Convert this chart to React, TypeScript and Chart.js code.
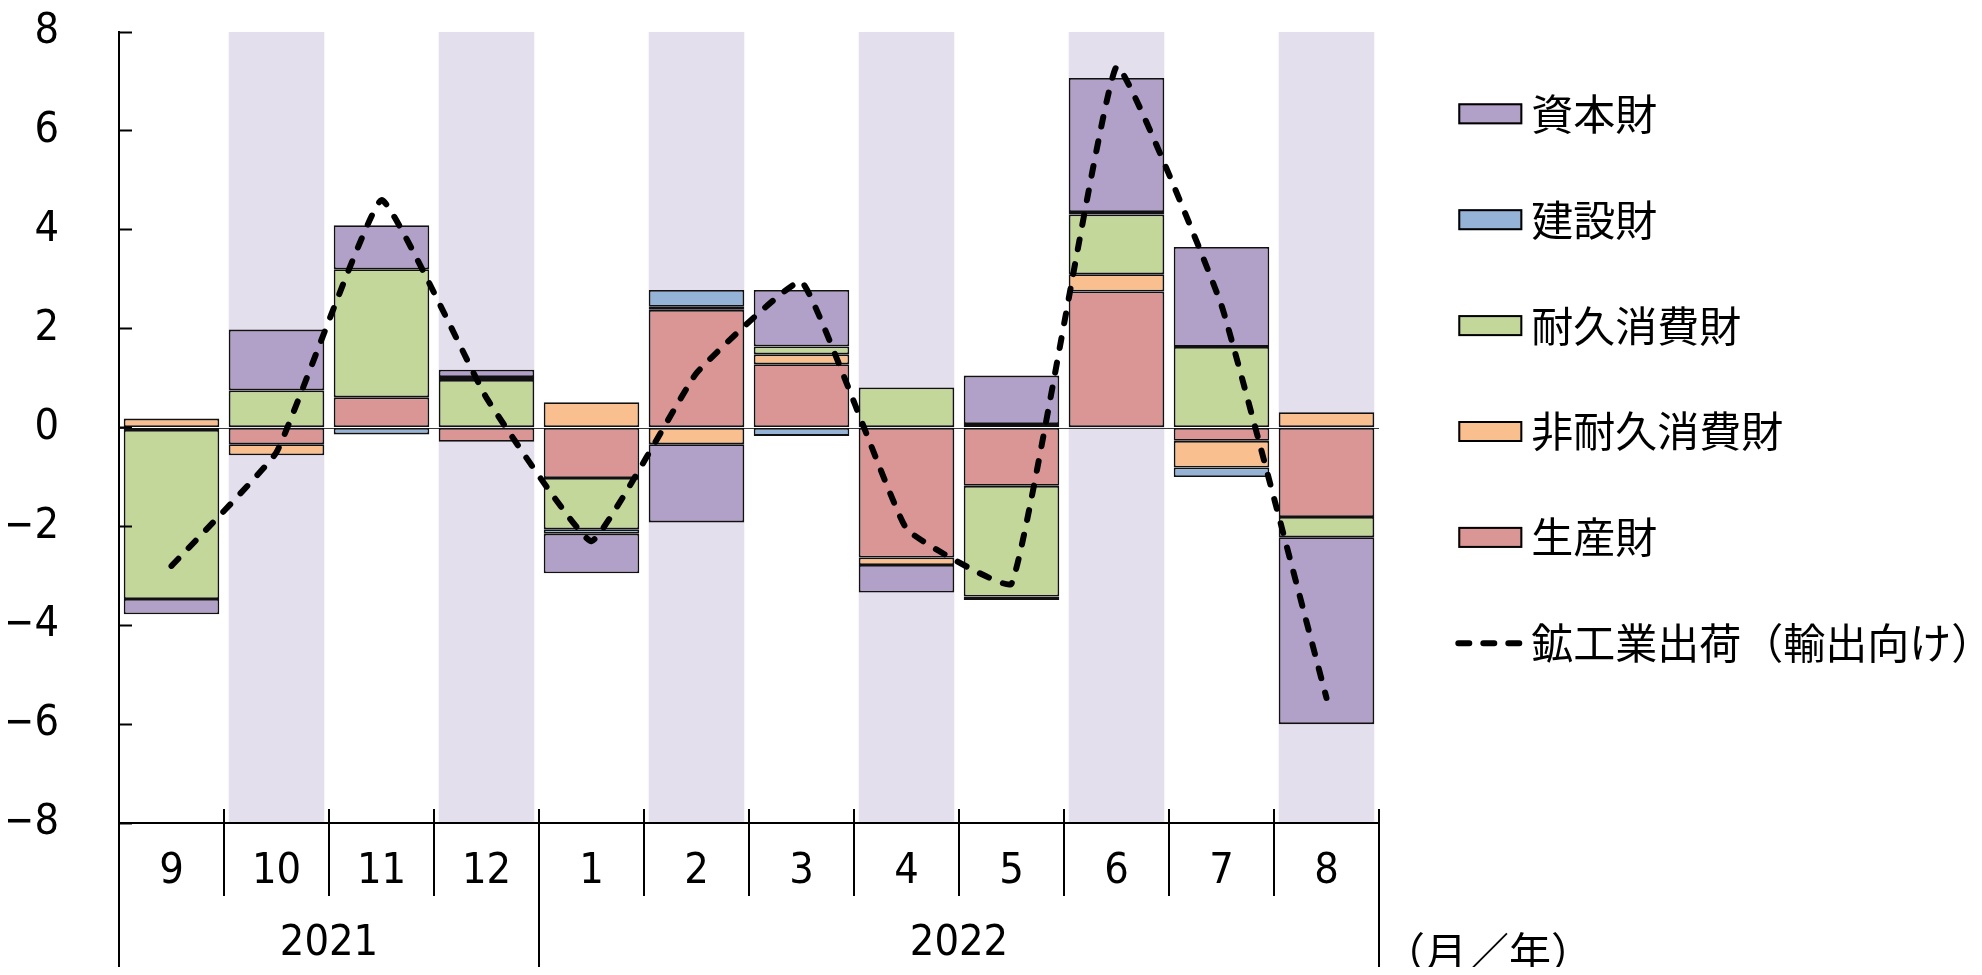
import React, { useEffect, useRef } from 'react';
import { Chart, registerables } from 'chart.js';

Chart.register(...registerables);

// ---------- data ----------
const months = ['9', '10', '11', '12', '1', '2', '3', '4', '5', '6', '7', '8'];
const yearLabels = ['2021', '2022'];
const yearSpans = [4, 8];
const shadedMonths = [false, true, false, true, false, true, false, true, false, true, false, true];

const producerGoods = [-0.05, -0.34, 0.61, -0.29, -1.02, 2.38, 1.28, -2.63, -1.18, 2.75, -0.27, -1.81]; // 生産財
const nonDurableGoods = [0.18, -0.22, 0, 0, 0.51, -0.34, 0.2, -0.15, 0.07, 0.35, -0.54, 0.31]; // 非耐久消費財
const durableGoods = [-3.42, 0.75, 2.59, 0.96, -1.04, 0.06, 0.16, 0.81, -2.24, 1.21, 1.63, -0.41]; // 耐久消費財
const constructionGoods = [0, 0, -0.14, 0.06, -0.09, 0.34, -0.17, 0, -0.07, 0.05, -0.19, 0]; // 建設財
const capitalGoods = [-0.31, 1.23, 0.89, 0.15, -0.8, -1.58, 1.14, -0.56, 0.98, 2.71, 2.02, -3.78]; // 資本財
const exportShipments = [-2.8, -0.5, 4.6, 0.6, -2.3, 1.1, 2.95, -2.05, -3.16, 7.3, 2.47, -5.47]; // 鉱工業出荷（輸出向け）

const yMin = -8;
const yMax = 8;
const yStep = 2;
const unitLabel = '（月／年）';

// ---------- styles ----------
const NUM_FONT = "'Liberation Sans Narrow', 'Arial Narrow', 'DejaVu Sans Condensed', 'Liberation Sans', sans-serif";
const JP_FONT = "'Noto Sans CJK JP', 'Noto Sans CJK SC', sans-serif";
const CANVAS_W = 1966;
const CANVAS_H = 959;
const Y_AXIS_W = 111;
const X_AXIS_H = 144;
const TOP_PAD = 24;
const RIGHT_PAD = 595;
const SEG_BORDER = 1.8;
const BAR_PCT = 0.91;
const LINE_W = 6;
const LINE_DASH = [10, 15];

const legendOrder = [4, 3, 2, 1, 0, 5];

const decorPlugin = {
  id: 'decor',
  afterDatasetDraw(chart: any, args: any) {
    const ds = chart.data.datasets[args.index];
    if (!ds || !ds.band) return;
    const { ctx, chartArea } = chart;
    const py = Math.round(chart.scales.y.getPixelForValue(0)) + 0.5;
    ctx.save();
    ctx.strokeStyle = '#3a3a3a';
    ctx.lineWidth = 1;
    ctx.beginPath();
    ctx.moveTo(chartArea.left, py);
    ctx.lineTo(chartArea.right, py);
    ctx.stroke();
    ctx.restore();
  },
  afterDraw(chart: any) {
    const { ctx, chartArea } = chart;
    const xs = chart.scales.x;
    const bottom = chartArea.bottom;
    const H = chart.height;

    const yearBounds: number[] = [0];
    yearSpans.forEach((s, i) => yearBounds.push(yearBounds[i] + s));

    ctx.save();
    ctx.strokeStyle = '#000';
    ctx.lineWidth = 2;
    for (let i = 0; i <= months.length; i++) {
      const px = Math.round(xs.getPixelForValue(i - 0.5) - 1) + 1;
      const isYear = yearBounds.indexOf(i) >= 0;
      ctx.beginPath();
      ctx.moveTo(px, bottom - 14);
      ctx.lineTo(px, isYear ? H : bottom + 73);
      ctx.stroke();
    }

    ctx.fillStyle = '#000';
    ctx.font = `43px ${NUM_FONT}`;
    ctx.textAlign = 'center';
    ctx.textBaseline = 'middle';
    yearLabels.forEach((lab, i) => {
      const start = yearBounds[i];
      const cx = xs.getPixelForValue(start + (yearSpans[i] - 1) / 2);
      ctx.fillText(lab, cx, 936);
    });

    ctx.font = `42px ${JP_FONT}`;
    ctx.textAlign = 'left';
    ctx.fillText(unitLabel, chartArea.right + 4, 944);

    // legend
    const sx = chartArea.right + 79.3;
    const y0 = 105.8;
    const dy = 105.9;
    const sw = 64;
    const sh = 21;
    legendOrder.forEach((di, row) => {
      const ds = chart.data.datasets[di];
      const cy = y0 + row * dy;
      if (ds.type === 'line') {
        ctx.save();
        ctx.strokeStyle = ds.borderColor;
        ctx.lineWidth = ds.borderWidth;
        ctx.lineCap = 'round';
        ctx.setLineDash([11, 14]);
        ctx.beginPath();
        ctx.moveTo(sx, cy);
        ctx.lineTo(sx + 61, cy);
        ctx.stroke();
        ctx.restore();
      } else {
        ctx.fillStyle = ds.backgroundColor;
        ctx.fillRect(sx, cy - sh / 2, sw, sh);
        ctx.strokeStyle = '#000';
        ctx.lineWidth = 2;
        ctx.strokeRect(sx + 1, cy - sh / 2 + 1, sw - 2, sh - 2);
      }
      ctx.fillStyle = '#000';
      ctx.font = `42px ${JP_FONT}`;
      ctx.textAlign = 'left';
      ctx.textBaseline = 'middle';
      ctx.fillText(ds.label, sx + 73, cy);
    });
    ctx.restore();
  },
};

function barSet(label: string, data: number[], color: string) {
  return {
    type: 'bar' as const,
    label,
    data,
    backgroundColor: color,
    borderColor: '#111',
    borderWidth: SEG_BORDER,
    borderSkipped: false,
    stack: 'goods',
    order: 2,
    barPercentage: BAR_PCT,
    categoryPercentage: 1,
  };
}

export default function App() {
  const ref = useRef<HTMLCanvasElement>(null);

  useEffect(() => {
    if (!ref.current) return;
    const tickFont = { family: NUM_FONT, size: 43, lineHeight: 1.2 };
    const datasets: any[] = [
      barSet('生産財', producerGoods, '#DA9694'),
      barSet('非耐久消費財', nonDurableGoods, '#FABF8F'),
      barSet('耐久消費財', durableGoods, '#C4D79B'),
      barSet('建設財', constructionGoods, '#95B3D7'),
      barSet('資本財', capitalGoods, '#B1A0C7'),
      {
        type: 'line',
        label: '鉱工業出荷（輸出向け）',
        data: exportShipments,
        borderColor: '#000',
        borderWidth: LINE_W,
        borderDash: LINE_DASH,
        borderCapStyle: 'round',
        pointRadius: 0,
        pointHoverRadius: 0,
        tension: 0.1,
        fill: false,
        stack: 'line',
        order: 1,
      },
      {
        type: 'bar',
        label: 'band',
        band: true,
        data: shadedMonths.map((s) => (s ? [yMin, yMax] : null)),
        backgroundColor: '#E4DFEC',
        borderWidth: 0,
        grouped: false,
        stack: 'band',
        order: 10,
        barPercentage: BAR_PCT,
        categoryPercentage: 1,
      },
    ];

    const chart = new Chart(ref.current, {
      type: 'bar',
      data: { labels: months, datasets },
      options: {
        animation: false,
        responsive: true,
        maintainAspectRatio: false,
        layout: { padding: { left: 0, right: RIGHT_PAD, top: 0, bottom: 0 } },
        plugins: {
          legend: { display: false },
          tooltip: { enabled: false },
        },
        scales: {
          x: {
            stacked: true,
            grid: { display: false, drawTicks: false },
            border: { display: true, color: '#000', width: 2, z: 1 },
            ticks: {
              font: { family: NUM_FONT, size: 43, lineHeight: 1 },
              color: '#000',
              padding: 27,
              autoSkip: false,
              maxRotation: 0,
              minRotation: 0,
            },
            afterFit(s: any) {
              s.height = X_AXIS_H;
            },
          },
          y: {
            stacked: true,
            min: yMin,
            max: yMax,
            ticks: {
              stepSize: yStep,
              font: tickFont,
              color: '#000',
              padding: 73,
              callback: (v: any) => (Number(v) < 0 ? '\u2212' + Math.abs(Number(v)) : String(v)),
            },
            grid: {
              drawOnChartArea: false,
              drawTicks: true,
              tickLength: -13,
              tickColor: '#000',
              tickWidth: 2,
              z: 1,
            },
            border: { display: true, color: '#000', width: 2, z: 1 },
            afterFit(s: any) {
              s.width = Y_AXIS_W;
              s.paddingTop = TOP_PAD;
              s.paddingBottom = 0;
            },
          },
        },
      } as any,
      plugins: [decorPlugin],
    });
    return () => chart.destroy();
  }, []);

  return (
    <div style={{ position: 'relative', width: CANVAS_W + 'px', height: CANVAS_H + 'px' }}>
      <canvas ref={ref} />
    </div>
  );
}
